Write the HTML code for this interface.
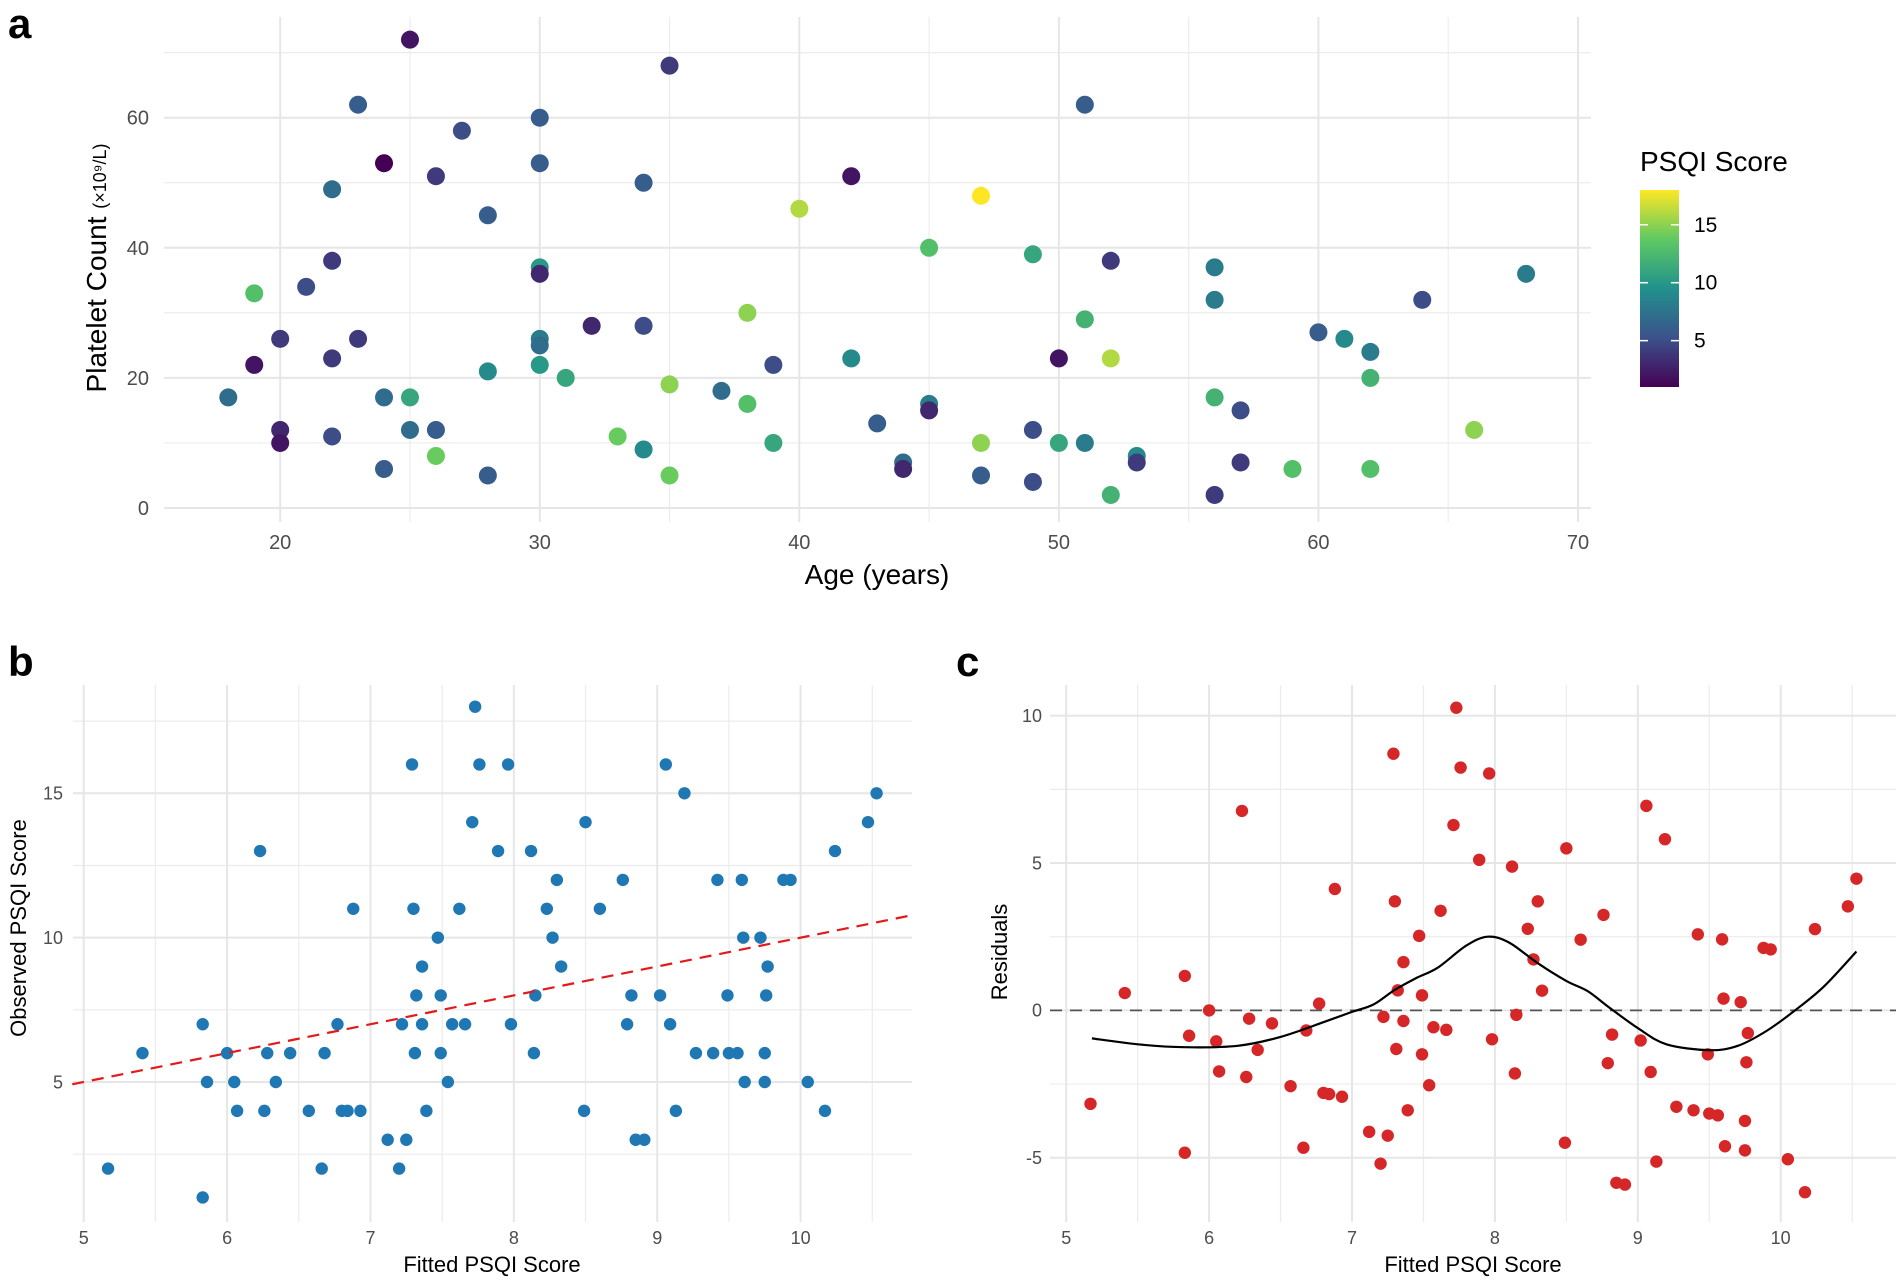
<!DOCTYPE html>
<html><head><meta charset="utf-8">
<style>
html,body{margin:0;padding:0;background:#fff;}
svg{display:block;font-family:"Liberation Sans",sans-serif;}
</style></head>
<body>
<svg id="fig" width="1902" height="1285" viewBox="0 0 1902 1285" xmlns="http://www.w3.org/2000/svg">
<defs>
<linearGradient id="vir" x1="0" y1="1" x2="0" y2="0">
<stop offset="0" stop-color="#440154"/><stop offset="0.25" stop-color="#3b528b"/><stop offset="0.5" stop-color="#21918c"/><stop offset="0.75" stop-color="#5ec962"/><stop offset="1" stop-color="#fde725"/>
</linearGradient>
</defs>
<text x="8" y="38" font-size="42" font-weight="bold">a</text>
<text x="8" y="676" font-size="42" font-weight="bold">b</text>
<text x="956" y="676" font-size="42" font-weight="bold">c</text>
<g id="ga"></g>
<g id="gb"></g>
<g id="gc"></g>
</svg>
<script>
// Panel a data
const ageVals = [25,35,23,51,30,27,24,30,26,42,22,34,47,40,28,45,49,52,22,56,30,30,68,21,19,56,64,38,51,60,20,23,61,30,32,34,30,62,42,22,50,52,19,30,39,28,31,62,35,37,18,24,25,56,38,45,45,57,20,25,26,66,43,49,22,33,20,39,47,50,51,34,53,26,44,53,57,24,44,59,62,28,35,47,49,52,56];
const plateletVals = [72,68,62,62,60,58,53,53,51,51,49,50,48,46,45,40,39,38,38,37,37,36,36,34,33,32,32,30,29,27,26,26,26,26,28,28,25,24,23,23,23,23,22,22,22,21,20,20,19,18,17,17,17,17,16,16,15,15,12,12,12,12,13,12,11,11,10,10,10,10,10,9,8,8,7,7,7,6,6,6,6,5,5,5,4,2,2];
const psqiVals = [2,4,6,6,6,5,1,6,4,2,7,6,18,16,6,13,11,4,4,8,10,3,8,5,13,8,5,15,12,6,4,4,9,8,3,5,7,8,9,4,2,16,2,10,5,9,11,12,15,7,7,7,11,12,13,8,3,5,3,7,6,15,6,5,5,14,2,11,15,11,8,9,9,14,7,4,4,6,3,13,13,6,14,6,5,12,4];
const ageTicks = [20,30,40,50,60,70];
const plateletTicks = [0,20,40,60];
const psqiTicks = [5,10,15];
// Panel b/c data
const fittedVals = [5.17,5.41,5.83,5.83,5.86,6.0,6.05,6.07,6.23,6.26,6.28,6.34,6.44,6.57,6.66,6.68,6.77,6.8,6.84,6.88,6.93,7.12,7.2,7.22,7.25,7.29,7.3,7.31,7.32,7.36,7.36,7.39,7.47,7.49,7.49,7.54,7.57,7.62,7.66,7.71,7.73,7.76,7.89,7.96,7.98,8.12,8.14,8.15,8.23,8.27,8.3,8.33,8.49,8.5,8.6,8.76,8.79,8.82,8.85,8.91,9.02,9.06,9.09,9.13,9.19,9.27,9.39,9.42,9.49,9.5,9.56,9.59,9.6,9.61,9.72,9.75,9.75,9.76,9.77,9.88,9.93,10.05,10.17,10.24,10.47,10.53];
const observedVals = [2,6,7,1,5,6,5,4,13,4,6,5,6,4,2,6,7,4,4,11,4,3,2,7,3,16,11,6,8,9,7,4,10,8,6,5,7,11,7,14,18,16,13,16,7,13,6,8,11,10,12,9,4,14,11,12,7,8,3,3,8,16,7,4,15,6,6,12,8,6,6,12,10,5,10,6,5,8,9,12,12,5,4,13,14,15];
const residualVals = observedVals.map((o,i)=>o-fittedVals[i]);
const smoothX = [5.18,5.5,5.83,6.2,6.5,6.8,7.0,7.15,7.3,7.45,7.6,7.8,7.95,8.1,8.3,8.5,8.65,8.8,9.0,9.2,9.5,9.7,9.9,10.1,10.3,10.53];
const smoothY = [-0.95,-1.15,-1.25,-1.2,-0.9,-0.4,-0.05,0.2,0.7,1.1,1.45,2.2,2.5,2.3,1.6,1.0,0.65,0.1,-0.6,-1.15,-1.35,-1.2,-0.7,0.0,0.8,2.0];
const fitTicks = [5,6,7,8,9,10];
const obsTicks = [5,10,15];
const resTicks = [-5,0,5,10];

const NS="http://www.w3.org/2000/svg";
function mk(parent,tag,attrs,text){const e=document.createElementNS(NS,tag);for(const k in attrs)e.setAttribute(k,attrs[k]);if(text!==undefined)e.textContent=text;parent.appendChild(e);return e;}
function lin(d0,d1,r0,r1){return v=>r0+(v-d0)/(d1-d0)*(r1-r0);}
const VIR=[[68,1,84],[59,82,139],[33,145,140],[94,201,98],[253,231,37]];
function viridis(t){t=Math.max(0,Math.min(1,t));const s=t*4,i=Math.min(3,Math.floor(s)),f=s-i;const a=VIR[i],b=VIR[i+1];return `rgb(${a.map((c,k)=>Math.round(c+(b[k]-c)*f)).join(',')})`;}

function grid(g,L,R,T,B,sx,sy,xs,ys,xminor,yminor){
  yminor.forEach(v=>{const l=mk(g,'line',{x1:L,x2:R,y1:sy(v),y2:sy(v),stroke:'#ececec','stroke-width':1.2});});
  xminor.forEach(v=>{const l=mk(g,'line',{x1:sx(v),x2:sx(v),y1:T,y2:B,stroke:'#ececec','stroke-width':1.2});});
  ys.forEach(v=>{const l=mk(g,'line',{x1:L,x2:R,y1:sy(v),y2:sy(v),stroke:'#e6e6e6','stroke-width':2});});
  xs.forEach(v=>{const l=mk(g,'line',{x1:sx(v),x2:sx(v),y1:T,y2:B,stroke:'#e6e6e6','stroke-width':2});});
}
function ticks(g,sx,sy,xs,ys,xLabY,yLabX,fs){
  xs.forEach(v=>{const t=mk(g,'text',{x:sx(v),y:xLabY,'font-size':fs,fill:'#4d4d4d','text-anchor':'middle'},String(v));});
  ys.forEach(v=>{const t=mk(g,'text',{x:yLabX,y:sy(v)+fs*0.35,'font-size':fs,fill:'#4d4d4d','text-anchor':'end'},String(v));});
}

// ---- Panel A
(function(){
  const g=document.getElementById('ga');
  const sx=lin(20,70,280.2,1578), sy=lin(0,60,508,117.7);
  grid(g,164,1591,17,522,sx,sy,ageTicks,plateletTicks,[25,35,45,55,65],[10,30,50,70]);
  ticks(g,sx,sy,ageTicks,plateletTicks,549,149,20);
  const xt=mk(g,'text',{x:877,y:584,'font-size':28,'text-anchor':'middle',fill:'#000'},'Age (years)');
  
  const yt=mk(g,'text',{transform:'translate(106,268) rotate(-90)','font-size':28,'text-anchor':'middle',fill:'#000'});
  
  mk(yt,'tspan',{},'Platelet Count ');
  mk(yt,'tspan',{'font-size':18},'(×10⁹/L)');
  const mn=Math.min(...psqiVals), mx=Math.max(...psqiVals);
  ageVals.forEach((a,i)=>{const c=mk(g,'circle',{cx:sx(a),cy:sy(plateletVals[i]),r:9,fill:viridis((psqiVals[i]-mn)/(mx-mn))});
    });
  const lt=mk(g,'text',{x:1640,y:171,'font-size':28,fill:'#000'},'PSQI Score');
  
  const cb0=387,cb1=190;
  const cs=lin(mn,mx,cb0,cb1);
  const bar=mk(g,'rect',{x:1640,y:cb1,width:39,height:cb0-cb1,fill:'url(#vir)'});
  
  psqiTicks.forEach(v=>{
    const y=cs(v);
    mk(g,'line',{x1:1640,x2:1648,y1:y,y2:y,stroke:'#fff','stroke-width':1.5});
    mk(g,'line',{x1:1671,x2:1679,y1:y,y2:y,stroke:'#fff','stroke-width':1.5});
    const t=mk(g,'text',{x:1694,y:y+7,'font-size':21,fill:'#000'},String(v));
    
  });
})();

// ---- Panel B
(function(){
  const g=document.getElementById('gb');
  const sx=lin(5,10,83.7,800.6), sy=lin(5,15,1082,793.3);
  const L=73,R=912,T=685,B=1222;
  grid(g,L,R,T,B,sx,sy,fitTicks,obsTicks,[5.5,6.5,7.5,8.5,9.5,10.5],[2.5,7.5,12.5,17.5]);
  ticks(g,sx,sy,fitTicks,obsTicks,1244,63,18);
  const xt=mk(g,'text',{x:492,y:1272,'font-size':22,'text-anchor':'middle',fill:'#000'},'Fitted PSQI Score');
  
  const yt=mk(g,'text',{transform:'translate(26,928) rotate(-90)','font-size':22,'text-anchor':'middle',fill:'#000'},'Observed PSQI Score');
  
  fittedVals.forEach((f,i)=>{const c=mk(g,'circle',{cx:sx(f),cy:sy(observedVals[i]),r:6.2,fill:'#1f77b4'});
    });
  const x0=4.92,x1=10.78;
  const ln=mk(g,'line',{x1:sx(x0),y1:sy(x0),x2:sx(x1),y2:sy(x1),stroke:'#e31a1c','stroke-width':2.2,'stroke-dasharray':'12,8'});
  
})();

// ---- Panel C
(function(){
  const g=document.getElementById('gc');
  const sx=lin(5,10,1066.2,1780.7), sy=lin(0,10,1010.4,715.7);
  const L=1050,R=1896,T=685,B=1222;
  grid(g,L,R,T,B,sx,sy,fitTicks,resTicks,[5.5,6.5,7.5,8.5,9.5,10.5],[-2.5,2.5,7.5]);
  ticks(g,sx,sy,fitTicks,resTicks,1244,1042,18);
  const xt=mk(g,'text',{x:1473,y:1272,'font-size':22,'text-anchor':'middle',fill:'#000'},'Fitted PSQI Score');
  
  const yt=mk(g,'text',{transform:'translate(1007,952) rotate(-90)','font-size':22,'text-anchor':'middle',fill:'#000'},'Residuals');
  
  const z=mk(g,'line',{x1:L,x2:R,y1:sy(0),y2:sy(0),stroke:'#555','stroke-width':1.8,'stroke-dasharray':'12,8'});
  
  fittedVals.forEach((f,i)=>{const c=mk(g,'circle',{cx:sx(f),cy:sy(residualVals[i]),r:6.2,fill:'#d62728'});
    });
  const P=smoothX.map((x,i)=>[sx(x),sy(smoothY[i])]);
  let d='M'+P[0][0].toFixed(1)+','+P[0][1].toFixed(1);
  for(let i=0;i<P.length-1;i++){
    const p0=P[Math.max(0,i-1)],p1=P[i],p2=P[i+1],p3=P[Math.min(P.length-1,i+2)];
    const c1=[p1[0]+(p2[0]-p0[0])/6,p1[1]+(p2[1]-p0[1])/6];
    const c2=[p2[0]-(p3[0]-p1[0])/6,p2[1]-(p3[1]-p1[1])/6];
    d+=` C${c1[0].toFixed(1)},${c1[1].toFixed(1)} ${c2[0].toFixed(1)},${c2[1].toFixed(1)} ${p2[0].toFixed(1)},${p2[1].toFixed(1)}`;
  }
  const p=mk(g,'path',{d:d,fill:'none',stroke:'#000','stroke-width':2.2});
  
})();
</script>
</body></html>
